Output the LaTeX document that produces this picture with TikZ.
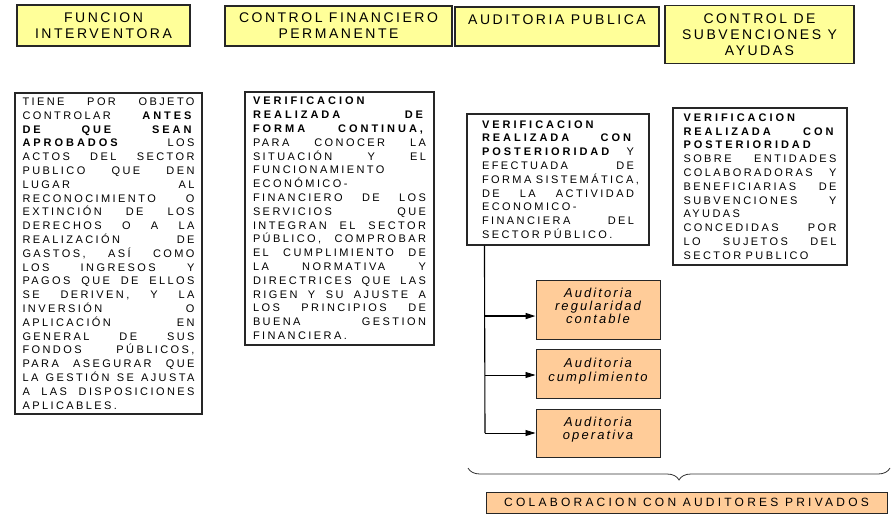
\documentclass[tikz,border=0pt]{standalone}
\usepackage{fontspec}
\setmainfont{Liberation Sans}
\newfontfamily\hdfont{Liberation Sans}[LetterSpace=18]
\newfontfamily\bdfont{Liberation Sans}[LetterSpace=22,BoldFeatures={LetterSpace=27}]
\newfontfamily\itfont{Liberation Sans}[LetterSpace=16]
\newfontfamily\cofont{Liberation Sans}[LetterSpace=27]
\usetikzlibrary{arrows.meta,decorations.pathreplacing,calc}
\definecolor{hdyellow}{HTML}{FFFF99}
\definecolor{peach}{HTML}{FFCC99}
\newlength\bw
\newcommand\jl[1]{{\spaceskip=.4em plus 1fil\relax\makebox[\bw][s]{#1}}}
\tikzset{
  hdbox/.style={draw=black!85,line width=1.3pt,fill=hdyellow,inner sep=0pt,align=center,
    font={\hdfont\fontsize{14}{16}\selectfont}},
  tbox/.style={draw=black!85,line width=1.1pt,fill=white,inner sep=0pt,align=left,
    font={\bdfont\fontsize{11}{13.8}\selectfont}},
  aubox/.style={draw=black!85,line width=1pt,fill=peach,inner sep=0pt,align=center,
    minimum width=124pt,font={\itfont\itshape\fontsize{13}{13.3}\selectfont}},
  arr/.style={-{Triangle[length=10pt,width=6pt]},line width=0.8pt},
}
\begin{document}
\begin{tikzpicture}[x=1pt,y=-1pt]
\useasboundingbox (0,0) rectangle (891,514);
% headers
\node[hdbox,minimum width=173pt,minimum height=41pt] (h1) at (103.5,25.5) {FUNCION\\INTERVENTORA};
\node[hdbox,minimum width=227pt,minimum height=40pt] (h2) at (338.5,26) {CONTROL FINANCIERO\\PERMANENTE};
\node[hdbox,minimum width=204pt,minimum height=39pt] (h3) at (557,26.5) {};
\node[font={\hdfont\fontsize{14}{16}\selectfont},inner sep=0pt] (h3t) at (557,20) {AUDITORIA PUBLICA};
\node[hdbox,minimum width=189pt,minimum height=58pt] (h4) at (759.5,34.5) {CONTROL DE\\SUBVENCIONES Y\\AYUDAS};
% text boxes
\node[tbox,minimum width=187pt,minimum height=321pt,text width=172pt] (b1) at (108.5,253.5) {\setlength\bw{172pt}\spaceskip=.4em\relax
\jl{TIENE POR OBJETO}\\
\jl{CONTROLAR \textbf{ANTES}}\\
\jl{\textbf{DE QUE SEAN}}\\
\jl{\textbf{APROBADOS} LOS}\\
\jl{ACTOS DEL SECTOR}\\
\jl{PUBLICO QUE DEN}\\
\jl{LUGAR AL}\\
\jl{RECONOCIMIENTO O}\\
\jl{EXTINCIÓN DE LOS}\\
\jl{DERECHOS O A LA}\\
\jl{REALIZACIÓN DE}\\
\jl{GASTOS, ASÍ COMO}\\
\jl{LOS INGRESOS Y}\\
\jl{PAGOS QUE DE ELLOS}\\
\jl{SE DERIVEN, Y LA}\\
\jl{INVERSIÓN O}\\
\jl{APLICACIÓN EN}\\
\jl{GENERAL DE SUS}\\
\jl{FONDOS PÚBLICOS,}\\
\jl{PARA ASEGURAR QUE}\\
\jl{LA GESTIÓN SE AJUSTA}\\
\jl{A LAS DISPOSICIONES}\\
APLICABLES.};
\node[tbox,minimum width=189pt,minimum height=253pt,text width=173pt] (b2) at (339.5,218.5) {\setlength\bw{173pt}\spaceskip=.4em\relax
\textbf{VERIFICACION}\\
\jl{\textbf{REALIZADA DE}}\\
\jl{\textbf{FORMA CONTINUA,}}\\
\jl{PARA CONOCER LA}\\
\jl{SITUACIÓN Y EL}\\
FUNCIONAMIENTO\\
ECONÓMICO-\\
\jl{FINANCIERO DE LOS}\\
\jl{SERVICIOS QUE}\\
\jl{INTEGRAN EL SECTOR}\\
\jl{PÚBLICO, COMPROBAR}\\
\jl{EL CUMPLIMIENTO DE}\\
\jl{LA NORMATIVA Y}\\
\jl{DIRECTRICES QUE LAS}\\
\jl{RIGEN Y SU AJUSTE A}\\
\jl{LOS PRINCIPIOS DE}\\
\jl{BUENA GESTION}\\
FINANCIERA.};
\node[tbox,minimum width=182pt,minimum height=131pt,text width=152pt] (b3) at (558,179.5) {\setlength\bw{152pt}\spaceskip=.4em\relax
\textbf{VERIFICACION}\\
\jl{\textbf{REALIZADA CON}}\\
\jl{\textbf{POSTERIORIDAD} Y}\\
\jl{EFECTUADA DE}\\
\jl{FORMA SISTEMÁTICA,}\\
\jl{DE LA ACTIVIDAD}\\
ECONOMICO-\\
\jl{FINANCIERA DEL}\\
SECTOR PÚBLICO.};
\node[tbox,minimum width=174pt,minimum height=157pt,text width=153pt] (b4) at (760,186.5) {\setlength\bw{153pt}\spaceskip=.4em\relax
\textbf{VERIFICACION}\\
\jl{\textbf{REALIZADA CON}}\\
\textbf{POSTERIORIDAD}\\
\jl{SOBRE ENTIDADES}\\
\jl{COLABORADORAS Y}\\
\jl{BENEFICIARIAS DE}\\
\jl{SUBVENCIONES Y}\\
AYUDAS\\
\jl{CONCEDIDAS POR}\\
\jl{LO SUJETOS DEL}\\
SECTOR PUBLICO};
% auditoria boxes
\node[aubox,minimum height=59pt] (a1) at (598,309.5) {Auditoria\\regularidad\\contable\\[-6pt]\mbox{}};
\node[aubox,minimum height=49pt] (a2) at (598,373.5) {Auditoria\\cumplimiento\\[-6pt]\mbox{}};
\node[aubox,minimum height=48pt] (a3) at (598,433) {Auditoria\\operativa\\[-4pt]\mbox{}};
% connectors
\coordinate (t0) at ($(b3.south west)+(18,0)$);
\coordinate (j1) at (485,316);
\coordinate (j2) at (485,375);
\coordinate (j3) at (485,433);
\draw[line width=1.1pt] (t0) -- (j3);
\draw[arr,line width=1.6pt] (j1) -- (j1 -| a1.west);
\draw[arr] (j2) -- (j2 -| a2.west);
\draw[arr] (j3) -- (j3 -| a3.west);
% brace
\coordinate (br1) at (468,468);
\coordinate (br2) at (890,468);
\draw[line width=0.8pt,black!80,decorate,decoration={brace,mirror,amplitude=12pt}] (br1) -- (br2);
\node[draw=black!85,line width=1pt,fill=peach,inner sep=0pt,minimum width=401pt,minimum height=21pt,
  font={\cofont\fontsize{12}{14}\selectfont}] (co) at (686.5,502.5) {COLABORACION CON AUDITORES PRIVADOS};
\end{tikzpicture}
\end{document}
